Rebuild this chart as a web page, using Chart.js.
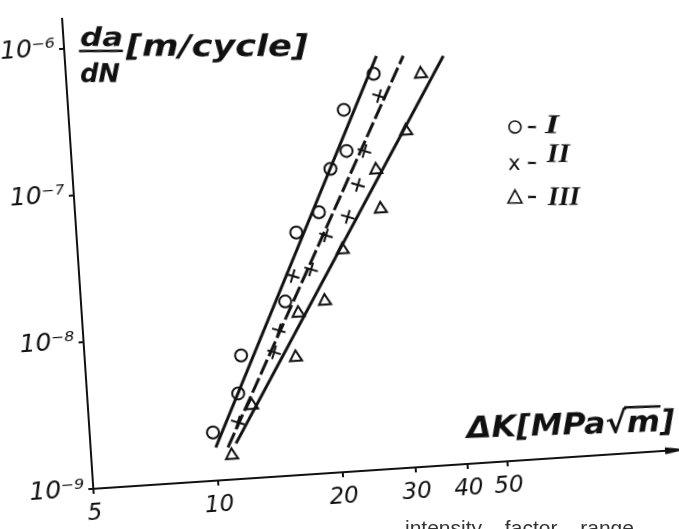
<!DOCTYPE html>
<html>
<head>
<meta charset="utf-8">
<script src="https://cdn.jsdelivr.net/npm/chart.js@4/dist/chart.umd.min.js"></script>
<style>
  html, body { margin: 0; padding: 0; background: #fff; overflow: hidden; }
  #wrap { width: 679px; height: 529px; position: relative; overflow: hidden; }
  /* the scanned figure is tilted a few degrees */
  #chart { position: absolute; left: 0; top: 0; transform: rotate(-3.8deg); transform-origin: 50% 50%; }
  #caption {
    position: absolute; left: 405px; top: 517px;
    font: 21px/21px "Liberation Sans", sans-serif; color: #333;
    white-space: pre; word-spacing: 17px;
  }
</style>
</head>
<body>
<div id="wrap">
  <canvas id="chart" width="679" height="529"></canvas>
  <div id="caption">intensity factor range,</div>
</div>
<script>
// tick values and labels
const X_TICKS = [5, 10, 20, 30, 40, 50];
const Y_TICKS = [1e-9, 1e-8, 1e-7, 1e-6];
const Y_TICK_LABELS = ['10⁻⁹', '10⁻⁸', '10⁻⁷', '10⁻⁶'];

// series I (circles)
const dK_I   = [9.9, 11.55, 11.9, 15.5, 16.9, 19.3, 20.9, 23.0, 23.0, 27.5];
const rate_I = [2.13e-9, 3.82e-9, 6.89e-9, 1.53e-8, 4.44e-8, 5.96e-8, 1.16e-7, 1.51e-7, 2.88e-7, 4.90e-7];

// series II (crosses)
const dK_II   = [11.4, 14.3, 14.8, 16.3, 18.1, 19.9, 22.6, 24.2, 25.4, 28.1];
const rate_II = [2.43e-9, 7.0e-9, 9.8e-9, 2.26e-8, 2.46e-8, 4.12e-8, 5.38e-8, 8.77e-8, 1.48e-7, 3.44e-7];

// series III (triangles)
const dK_III   = [10.9, 12.4, 16.1, 16.6, 19.3, 21.7, 27.2, 26.9, 32.2, 35.7];
const rate_III = [1.46e-9, 3.13e-9, 6.33e-9, 1.26e-8, 1.48e-8, 3.24e-8, 5.89e-8, 1.09e-7, 1.94e-7, 4.66e-7];

// fitted straight lines (end points)
const fit_I_dK     = [10.0, 28.1];
const fit_I_rate   = [1.68e-9, 6.46e-7];
const fit_II_dK    = [10.7, 32.6];
const fit_II_rate  = [1.66e-9, 6.3e-7];
const fit_III_dK   = [11.2, 40.7];
const fit_III_rate = [1.75e-9, 6.03e-7];

const INK = '#111';
const TILT = 3.8 * Math.PI / 180;
const CX = 339.5, CY = 264.5;

var toPoints = function(xs, ys) {
    return xs.map(function(x, i) { return {x: x, y: ys[i]}; });
};

var fitLine = function(xs, ys, dash) {
    return {
        type: 'line',
        data: toPoints(xs, ys),
        borderColor: INK,
        borderWidth: 3,
        borderDash: dash,
        pointRadius: 0,
        fill: false
    };
};

var marks = function(xs, ys, style, radius, rotation) {
    return {
        type: 'scatter',
        data: toPoints(xs, ys),
        pointStyle: style,
        pointRadius: radius,
        pointRotation: rotation,
        borderColor: INK,
        backgroundColor: 'rgba(0,0,0,0)',
        borderWidth: 2
    };
};

// draw text squeezed/stretched to a given width
var fitText = function(ctx, text, x, y, w, font) {
    ctx.font = font;
    var m = ctx.measureText(text).width;
    ctx.save();
    ctx.translate(x, y);
    ctx.scale(w / m, 1);
    ctx.fillText(text, 0, 0);
    ctx.restore();
    return w / m;
};

var decorations = {
    id: 'decorations',
    afterDraw: function(chart) {
        var ctx = chart.ctx;
        var area = chart.chartArea;

        // arrow head at the end of the x axis
        ctx.save();
        ctx.strokeStyle = INK;
        ctx.fillStyle = INK;
        ctx.lineWidth = 2;
        ctx.beginPath();
        ctx.moveTo(area.right, area.bottom);
        ctx.lineTo(area.right + 8, area.bottom);
        ctx.stroke();
        ctx.beginPath();
        ctx.moveTo(area.right + 12, area.bottom);
        ctx.lineTo(area.right - 10, area.bottom - 3.5);
        ctx.lineTo(area.right - 10, area.bottom + 3.5);
        ctx.closePath();
        ctx.fill();
        // y axis runs a little past the top tick
        ctx.beginPath();
        ctx.moveTo(area.left, area.top);
        ctx.lineTo(area.left, area.top - 30);
        ctx.stroke();
        ctx.restore();

        // everything below is placed in page coordinates (undo the tilt)
        ctx.save();
        ctx.translate(CX, CY);
        ctx.rotate(TILT);
        ctx.translate(-CX, -CY);
        ctx.fillStyle = INK;
        ctx.strokeStyle = INK;
        ctx.textBaseline = 'alphabetic';
        ctx.textAlign = 'left';

        // y axis title: da/dN [m/cycle]
        var hand = 'bold italic 26px "DejaVu Sans"';
        fitText(ctx, 'da', 80, 46, 43, hand);
        ctx.lineWidth = 2.5;
        ctx.beginPath();
        ctx.moveTo(79, 51);
        ctx.lineTo(123, 51);
        ctx.stroke();
        fitText(ctx, 'dN', 80, 82, 40, hand);
        fitText(ctx, '[m/cycle]', 126, 56, 182, 'bold italic 30px "DejaVu Sans"');

        // legend
        ctx.lineWidth = 1.6;
        ctx.beginPath();
        ctx.arc(515, 127, 6, 0, Math.PI * 2);
        ctx.stroke();
        ctx.font = '21px "DejaVu Sans"';
        ctx.fillText('x', 508, 170);
        ctx.beginPath();
        ctx.moveTo(515, 190);
        ctx.lineTo(522, 203);
        ctx.lineTo(508, 203);
        ctx.closePath();
        ctx.stroke();
        ctx.lineWidth = 2.2;
        [127, 163, 197].forEach(function(y) {
            ctx.beginPath();
            ctx.moveTo(528, y);
            ctx.lineTo(536, y);
            ctx.stroke();
        });
        var roman = 'bold italic 27px "Liberation Serif"';
        fitText(ctx, 'I', 545, 133, 14, roman);
        fitText(ctx, 'II', 547, 162, 23, roman);
        fitText(ctx, 'III', 548, 205, 32, roman);

        // x axis title: ΔK [MPa√m]
        ctx.save();
        ctx.translate(467, 438);
        ctx.rotate(-2 * Math.PI / 180);
        var kFont = 'bold italic 30px "DejaVu Sans"';
        var s = fitText(ctx, 'ΔK[MPa√m]', 0, 0, 208, kFont);
        ctx.font = kFont;
        var m0 = ctx.measureText('ΔK[MPa√').width * s;
        var m1 = ctx.measureText('ΔK[MPa√m').width * s;
        ctx.lineWidth = 2.5;
        ctx.beginPath();
        ctx.moveTo(m0 - 2, -25);
        ctx.lineTo(m1 + 1, -25);
        ctx.stroke();
        ctx.restore();

        ctx.restore();
    }
};

new Chart(document.getElementById('chart'), {
    type: 'scatter',
    data: {
        datasets: [
            fitLine(fit_I_dK, fit_I_rate, []),
            fitLine(fit_II_dK, fit_II_rate, [16, 4]),
            fitLine(fit_III_dK, fit_III_rate, []),
            marks(dK_I, rate_I, 'circle', 6, 0),
            marks(dK_II, rate_II, 'cross', 7, 20),
            marks(dK_III, rate_III, 'triangle', 7, 0)
        ]
    },
    options: {
        responsive: false,
        devicePixelRatio: 1,
        animation: false,
        layout: { padding: { top: 0, right: 17, left: 0, bottom: 0 } },
        plugins: {
            legend: { display: false },
            tooltip: { enabled: false }
        },
        scales: {
            x: {
                type: 'logarithmic',
                min: 5,
                max: 127,
                afterBuildTicks: function(scale) {
                    scale.ticks = X_TICKS.map(function(v) { return {value: v}; });
                },
                afterFit: function(scale) {
                    scale.height = 57;
                    scale.paddingLeft = 0;
                    scale.paddingRight = 0;
                },
                ticks: {
                    autoSkip: false,
                    maxRotation: 0,
                    padding: 6,
                    color: INK,
                    font: { family: 'DejaVu Sans', style: 'italic', size: 23 },
                    callback: function(value) { return String(value); }
                },
                grid: { drawOnChartArea: false, color: INK, lineWidth: 2, tickLength: 5 },
                border: { color: INK, width: 2 }
            },
            y: {
                type: 'logarithmic',
                min: 1e-9,
                max: 1.41e-6,
                afterBuildTicks: function(scale) {
                    scale.ticks = Y_TICKS.map(function(v) { return {value: v}; });
                },
                afterFit: function(scale) {
                    scale.width = 79;
                    scale.paddingTop = 0;
                    scale.paddingBottom = 0;
                },
                ticks: {
                    autoSkip: false,
                    padding: 4,
                    color: INK,
                    font: { family: 'DejaVu Sans', style: 'italic', size: 25 },
                    callback: function(value) {
                        var i = Y_TICKS.findIndex(function(t) { return Math.abs(t - value) / t < 1e-6; });
                        return i >= 0 ? Y_TICK_LABELS[i] : '';
                    }
                },
                grid: { drawOnChartArea: false, color: INK, lineWidth: 2, tickLength: 5 },
                border: { color: INK, width: 2 }
            }
        }
    },
    plugins: [decorations]
});
</script>
</body>
</html>
